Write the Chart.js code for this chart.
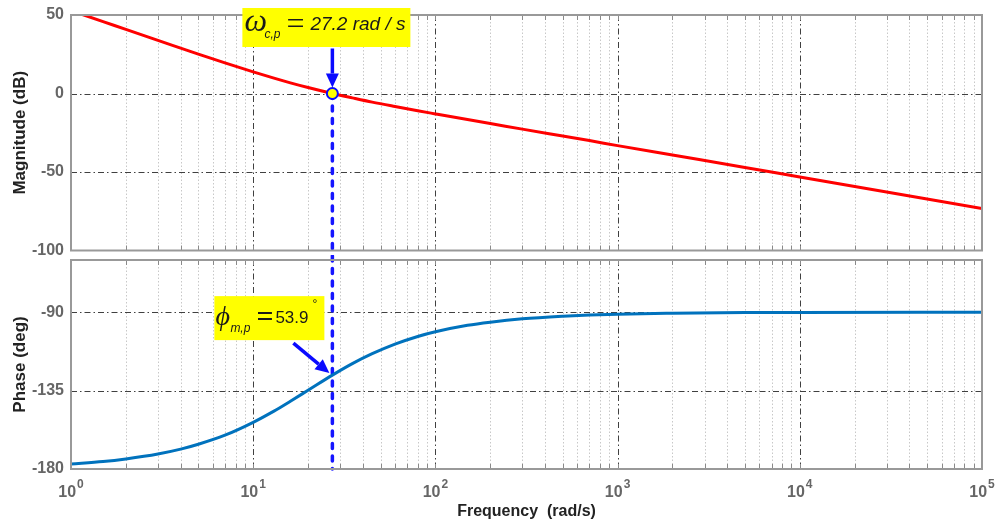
<!DOCTYPE html>
<html>
<head>
<meta charset="utf-8">
<script src="https://cdn.jsdelivr.net/npm/chart.js@4.4.1/dist/chart.umd.min.js"></script>
<style>
  html, body { margin: 0; padding: 0; background: #fff; }
  #wrap { position: relative; width: 1003px; height: 523px; overflow: hidden; }
  canvas { position: absolute; left: 0; }
  #mag { top: 0; }
  #phase { top: 255px; }
</style>
</head>
<body>
<div id="wrap">
  <canvas id="mag" width="1003" height="258"></canvas>
  <canvas id="phase" width="1003" height="268"></canvas>
</div>
<script>
// values
const freq = [1, 1.5, 2, 3, 4, 5, 7, 10, 13, 16, 20, 27.2, 35, 45, 60, 80, 100, 150, 200, 300, 500, 700, 1000, 2000, 5000, 10000, 100000];
const magDb = [52.8, 45.8, 40.8, 33.8, 28.9, 25.1, 19.5, 13.8, 9.8, 6.8, 3.8, 0, -2.8, -5.5, -8.3, -11.0, -13.0, -16.6, -19.1, -22.7, -27.1, -30.0, -33.2, -39.2, -47.1, -53.2, -73.2];
const phaseDeg = [-177.1, -175.7, -174.2, -171.4, -168.6, -165.8, -160.6, -153.2, -146.8, -141.1, -134.8, -126.1, -119.5, -113.8, -108.3, -103.9, -101.2, -97.5, -95.7, -93.8, -92.3, -91.6, -91.1, -90.6, -90.2, -90.1, -90.0];

const magTicks = [50, 0, -50, -100];
const phaseTicks = [-90, -135, -180];
const decadeExps = [0, 1, 2, 3, 4, 5];

const wc = 27.2;   // crossover frequency, rad/s
const pm = 53.9;   // phase margin, deg

const FONT = '"Liberation Sans", Arial, sans-serif';
const SERIF = '"Liberation Serif", "Times New Roman", serif';
const DASH = [5, 7.5];
const SPLIT = 255; // page y where the phase canvas starts
let markerY = 93;

// minor log positions 2..9 in each decade
const minorFreqs = [];
for (let e = 0; e < 5; e++)
  for (let m = 2; m <= 9; m++) minorFreqs.push(m * Math.pow(10, e));

function seg(ctx, x1, y1, x2, y2) {
  ctx.beginPath();
  ctx.moveTo(x1, y1);
  ctx.lineTo(x2, y2);
  ctx.stroke();
}

function arrow(ctx, x1, y1, x2, y2) {
  const ang = Math.atan2(y2 - y1, x2 - x1);
  const hl = 14, hw = 6.5;
  const bx = x2 - hl * Math.cos(ang), by = y2 - hl * Math.sin(ang);
  ctx.strokeStyle = "#0a0aff";
  ctx.fillStyle = "#0a0aff";
  ctx.lineWidth = 3.5;
  ctx.setLineDash([]);
  seg(ctx, x1, y1, bx, by);
  ctx.beginPath();
  ctx.moveTo(x2, y2);
  ctx.lineTo(bx + hw * Math.sin(ang), by - hw * Math.cos(ang));
  ctx.lineTo(bx - hw * Math.sin(ang), by + hw * Math.cos(ang));
  ctx.closePath();
  ctx.fill();
}

// MATLAB style grid, frame and inner tick marks
const bodeGrid = {
  id: "bodeGrid",
  beforeDatasetsDraw(chart, args, opts) {
    const { ctx, chartArea: a, scales: { x, y } } = chart;
    ctx.save();
    ctx.lineWidth = 1;
    ctx.strokeStyle = "#c8c8c8";
    ctx.setLineDash([1.5, 2]);
    for (const f of minorFreqs) {
      const px = Math.round(x.getPixelForValue(f)) + 0.5;
      seg(ctx, px, a.top, px, a.bottom);
    }
    ctx.strokeStyle = "#404040";
    ctx.setLineDash([6, 3, 1.5, 3]);
    for (const e of decadeExps.slice(1, -1)) {
      const px = Math.round(x.getPixelForValue(Math.pow(10, e))) + 0.5;
      seg(ctx, px, a.top, px, a.bottom);
    }
    for (const v of opts.hlines) {
      const py = Math.round(y.getPixelForValue(v)) + 0.5;
      seg(ctx, a.left, py, a.right, py);
    }
    ctx.restore();
  },
  afterDatasetsDraw(chart) {
    const { ctx, chartArea: a, scales: { x } } = chart;
    ctx.save();
    ctx.setLineDash([]);
    ctx.strokeStyle = "#8a8a8a";
    ctx.lineWidth = 1;
    const all = minorFreqs.concat(decadeExps.map((e) => Math.pow(10, e)));
    for (const f of all) {
      const px = Math.round(x.getPixelForValue(f)) + 0.5;
      seg(ctx, px, a.top, px, a.top + 5);
      seg(ctx, px, a.bottom, px, a.bottom - 5);
    }
    ctx.strokeStyle = "#999";
    ctx.lineWidth = 2;
    ctx.strokeRect(a.left, a.top, a.right - a.left, a.bottom - a.top);
    ctx.restore();
  },
};

// crossover annotation on the magnitude plot
const magNote = {
  id: "magNote",
  beforeDatasetsDraw(chart) {
    const { ctx, scales: { x, y } } = chart;
    const xc = x.getPixelForValue(wc);
    markerY = y.getPixelForValue(0);
    ctx.save();
    ctx.strokeStyle = "#1515ff";
    ctx.lineWidth = 3.5;
    ctx.lineCap = "round";
    ctx.setLineDash(DASH);
    seg(ctx, xc, markerY, xc, SPLIT);
    ctx.restore();
  },
  afterDraw(chart) {
    const { ctx, scales: { x, y } } = chart;
    const xc = x.getPixelForValue(wc);
    const yc = y.getPixelForValue(0);
    ctx.save();
    arrow(ctx, xc, yc - 45, xc, yc - 6);
    const bx = xc - 90;
    ctx.fillStyle = "#ffff00";
    ctx.fillRect(bx, 8, 168, 39);
    ctx.fillStyle = "#1a1a1a";
    ctx.font = "italic 32px " + SERIF;
    ctx.fillText("\u03c9", bx + 2, 31);
    ctx.font = "italic 12px " + FONT;
    ctx.fillText("c,p", bx + 22, 38);
    ctx.font = "32px " + SERIF;
    ctx.fillText("=", bx + 44, 34);
    ctx.font = "italic 19px " + FONT;
    ctx.fillText("27.2 rad / s", bx + 68, 30);
    ctx.restore();
  },
};

// phase margin annotation on the phase plot
const phaseNote = {
  id: "phaseNote",
  beforeDatasetsDraw(chart) {
    const { ctx, chartArea: a, scales: { x } } = chart;
    const xc = x.getPixelForValue(wc);
    ctx.save();
    ctx.strokeStyle = "#1515ff";
    ctx.lineWidth = 3.5;
    ctx.lineCap = "round";
    ctx.setLineDash(DASH);
    ctx.lineDashOffset = SPLIT - markerY;
    seg(ctx, xc, 0, xc, a.bottom);
    ctx.restore();
  },
  afterDraw(chart) {
    const { ctx, chartArea: a, scales: { x, y } } = chart;
    const xc = x.getPixelForValue(wc);
    const yp = y.getPixelForValue(-180 + pm);
    ctx.save();
    arrow(ctx, xc - 39, yp - 32, xc - 3, yp - 2);
    const bx = xc - 118, by = yp - 79;
    ctx.fillStyle = "#ffff00";
    ctx.fillRect(bx, by, 110, 44);
    ctx.fillStyle = "#1a1a1a";
    ctx.font = "italic 28px " + SERIF;
    ctx.fillText("\u03d5", bx + 1, by + 29);
    ctx.font = "italic 12px " + FONT;
    ctx.fillText("m,p", bx + 16, by + 36);
    ctx.font = "bold 30px " + SERIF;
    ctx.fillText("=", bx + 42, by + 30);
    ctx.font = "17px " + FONT;
    ctx.fillText("53.9", bx + 61, by + 27);
    ctx.font = "12px " + FONT;
    ctx.fillText("\u00b0", bx + 98, by + 12);

    // decade labels 10^n
    ctx.fillStyle = "#666";
    for (const e of decadeExps) {
      const px = x.getPixelForValue(Math.pow(10, e));
      ctx.font = "bold 16px " + FONT;
      const w10 = ctx.measureText("10").width;
      ctx.font = "bold 12px " + FONT;
      const we = ctx.measureText(String(e)).width;
      const x0 = px - (w10 + 1 + we) / 2;
      ctx.font = "bold 16px " + FONT;
      ctx.fillText("10", x0, a.bottom + 28);
      ctx.font = "bold 12px " + FONT;
      ctx.fillText(String(e), x0 + w10 + 1, a.bottom + 19);
    }
    ctx.restore();
  },
};

function yScale(min, max, ticks, title) {
  return {
    min,
    max,
    afterBuildTicks: (s) => {
      s.ticks = ticks.map((v) => ({ value: v }));
    },
    afterFit: (s) => {
      s.width = 71;
      s.paddingTop = 0;
      s.paddingBottom = 0;
    },
    grid: { display: false, drawTicks: false },
    border: { display: false },
    ticks: {
      padding: 7,
      color: "#666",
      font: { family: FONT, size: 16, weight: "bold" },
    },
    title: {
      display: true,
      text: title,
      color: "#222",
      padding: { top: 10, bottom: 0 },
      font: { family: FONT, size: 17, weight: "bold" },
    },
  };
}

Chart.defaults.animation = false;

new Chart(document.getElementById("mag"), {
  type: "line",
  data: {
    datasets: [
      {
        data: [{ x: wc, y: 0 }],
        pointRadius: 5.5,
        pointBorderWidth: 2,
        pointBackgroundColor: "#ffff00",
        pointBorderColor: "#0a0aff",
        showLine: false,
        order: 0,
      },
      {
        data: freq.map((f, i) => ({ x: f, y: magDb[i] })),
        borderColor: "#ff0000",
        borderWidth: 3,
        pointRadius: 0,
        cubicInterpolationMode: "monotone",
        order: 1,
      },
    ],
  },
  options: {
    responsive: false,
    layout: { padding: { left: 0, top: 15, right: 21, bottom: 2 } },
    plugins: {
      legend: { display: false },
      tooltip: { enabled: false },
      bodeGrid: { hlines: [0, -50] },
    },
    scales: {
      x: { type: "logarithmic", min: 1, max: 100000, display: false },
      y: yScale(-100, 50, magTicks, "Magnitude (dB)"),
    },
  },
  plugins: [bodeGrid, magNote],
});

new Chart(document.getElementById("phase"), {
  type: "line",
  data: {
    datasets: [
      {
        data: freq.map((f, i) => ({ x: f, y: phaseDeg[i] })),
        borderColor: "#0072bd",
        borderWidth: 3,
        pointRadius: 0,
        cubicInterpolationMode: "monotone",
      },
    ],
  },
  options: {
    responsive: false,
    layout: { padding: { left: 0, top: 5, right: 21, bottom: 0 } },
    plugins: {
      legend: { display: false },
      tooltip: { enabled: false },
      bodeGrid: { hlines: [-90, -135] },
    },
    scales: {
      x: {
        type: "logarithmic",
        min: 1,
        max: 100000,
        afterFit: (s) => {
          s.height = 54;
          s.paddingLeft = 0;
          s.paddingRight = 0;
        },
        grid: { display: false },
        border: { display: false },
        ticks: { display: false },
        title: {
          display: true,
          text: "Frequency  (rad/s)",
          color: "#222",
          padding: { top: 0, bottom: 2 },
          font: { family: FONT, size: 16, weight: "bold" },
        },
      },
      y: yScale(-180, -60, phaseTicks, "Phase (deg)"),
    },
  },
  plugins: [bodeGrid, phaseNote],
});
</script>
</body>
</html>
